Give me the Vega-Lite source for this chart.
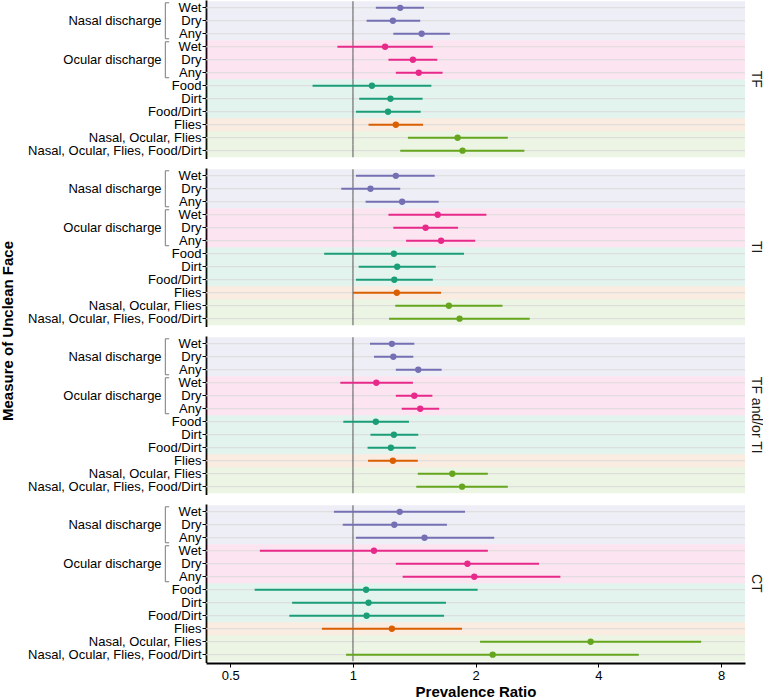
{
  "$schema": "https://vega.github.io/schema/vega-lite/v6.json",
  "padding": {"left": 0, "top": 0, "right": 0, "bottom": 0},
  "bounds": "flush",
  "config": {
    "view": {"stroke": null},
    "font": "Liberation Sans",
    "axis": {"labelFont": "Liberation Sans", "titleFont": "Liberation Sans", "labelColor": "#000", "titleColor": "#000"}
  },
  "data": {"values": [
    {"outcome":"TF","key":"Nasal|Wet","group":"Nasal discharge","pr":1.306,"lo":1.138,"hi":1.494},
    {"outcome":"TF","key":"Nasal|Dry","group":"Nasal discharge","pr":1.253,"lo":1.080,"hi":1.462},
    {"outcome":"TF","key":"Nasal|Any","group":"Nasal discharge","pr":1.474,"lo":1.256,"hi":1.729},
    {"outcome":"TF","key":"Ocular|Wet","group":"Ocular discharge","pr":1.199,"lo":0.916,"hi":1.570},
    {"outcome":"TF","key":"Ocular|Dry","group":"Ocular discharge","pr":1.403,"lo":1.222,"hi":1.610},
    {"outcome":"TF","key":"Ocular|Any","group":"Ocular discharge","pr":1.450,"lo":1.274,"hi":1.659},
    {"outcome":"TF","key":"Food","group":"Food/Dirt","pr":1.113,"lo":0.796,"hi":1.557},
    {"outcome":"TF","key":"Dirt","group":"Food/Dirt","pr":1.236,"lo":1.036,"hi":1.482},
    {"outcome":"TF","key":"Food/Dirt","group":"Food/Dirt","pr":1.219,"lo":1.017,"hi":1.466},
    {"outcome":"TF","key":"Flies","group":"Flies","pr":1.274,"lo":1.092,"hi":1.486},
    {"outcome":"TF","key":"Nasal, Ocular, Flies","group":"Combined","pr":1.806,"lo":1.364,"hi":2.398},
    {"outcome":"TF","key":"Nasal, Ocular, Flies, Food/Dirt","group":"Combined","pr":1.857,"lo":1.306,"hi":2.633},

    {"outcome":"TI","key":"Nasal|Wet","group":"Nasal discharge","pr":1.274,"lo":1.017,"hi":1.587},
    {"outcome":"TI","key":"Nasal|Dry","group":"Nasal discharge","pr":1.104,"lo":0.936,"hi":1.306},
    {"outcome":"TI","key":"Nasal|Any","group":"Nasal discharge","pr":1.320,"lo":1.074,"hi":1.623},
    {"outcome":"TI","key":"Ocular|Wet","group":"Ocular discharge","pr":1.614,"lo":1.222,"hi":2.125},
    {"outcome":"TI","key":"Ocular|Dry","group":"Ocular discharge","pr":1.507,"lo":1.256,"hi":1.811},
    {"outcome":"TI","key":"Ocular|Any","group":"Ocular discharge","pr":1.645,"lo":1.350,"hi":1.995},
    {"outcome":"TI","key":"Food","group":"Food/Dirt","pr":1.260,"lo":0.850,"hi":1.872},
    {"outcome":"TI","key":"Dirt","group":"Food/Dirt","pr":1.284,"lo":1.033,"hi":1.596},
    {"outcome":"TI","key":"Food/Dirt","group":"Food/Dirt","pr":1.263,"lo":1.017,"hi":1.570},
    {"outcome":"TI","key":"Flies","group":"Flies","pr":1.281,"lo":1.000,"hi":1.645},
    {"outcome":"TI","key":"Nasal, Ocular, Flies","group":"Combined","pr":1.719,"lo":1.270,"hi":2.327},
    {"outcome":"TI","key":"Nasal, Ocular, Flies, Food/Dirt","group":"Combined","pr":1.826,"lo":1.226,"hi":2.714},

    {"outcome":"TF and/or TI","key":"Nasal|Wet","group":"Nasal discharge","pr":1.246,"lo":1.101,"hi":1.414},
    {"outcome":"TF and/or TI","key":"Nasal|Dry","group":"Nasal discharge","pr":1.256,"lo":1.126,"hi":1.406},
    {"outcome":"TF and/or TI","key":"Nasal|Any","group":"Nasal discharge","pr":1.446,"lo":1.274,"hi":1.650},
    {"outcome":"TF and/or TI","key":"Ocular|Wet","group":"Ocular discharge","pr":1.141,"lo":0.931,"hi":1.403},
    {"outcome":"TF and/or TI","key":"Ocular|Dry","group":"Ocular discharge","pr":1.414,"lo":1.274,"hi":1.566},
    {"outcome":"TF and/or TI","key":"Ocular|Any","group":"Ocular discharge","pr":1.462,"lo":1.317,"hi":1.627},
    {"outcome":"TF and/or TI","key":"Food","group":"Food/Dirt","pr":1.138,"lo":0.947,"hi":1.372},
    {"outcome":"TF and/or TI","key":"Dirt","group":"Food/Dirt","pr":1.260,"lo":1.104,"hi":1.446},
    {"outcome":"TF and/or TI","key":"Food/Dirt","group":"Food/Dirt","pr":1.239,"lo":1.086,"hi":1.426},
    {"outcome":"TF and/or TI","key":"Flies","group":"Flies","pr":1.253,"lo":1.089,"hi":1.442},
    {"outcome":"TF and/or TI","key":"Nasal, Ocular, Flies","group":"Combined","pr":1.753,"lo":1.442,"hi":2.142},
    {"outcome":"TF and/or TI","key":"Nasal, Ocular, Flies, Food/Dirt","group":"Combined","pr":1.852,"lo":1.430,"hi":2.398},

    {"outcome":"CT","key":"Nasal|Wet","group":"Nasal discharge","pr":1.302,"lo":0.898,"hi":1.883},
    {"outcome":"CT","key":"Nasal|Dry","group":"Nasal discharge","pr":1.263,"lo":0.944,"hi":1.700},
    {"outcome":"CT","key":"Nasal|Any","group":"Nasal discharge","pr":1.498,"lo":1.017,"hi":2.221},
    {"outcome":"CT","key":"Ocular|Wet","group":"Ocular discharge","pr":1.126,"lo":0.591,"hi":2.142},
    {"outcome":"CT","key":"Ocular|Dry","group":"Ocular discharge","pr":1.909,"lo":1.274,"hi":2.860},
    {"outcome":"CT","key":"Ocular|Any","group":"Ocular discharge","pr":1.984,"lo":1.324,"hi":3.227},
    {"outcome":"CT","key":"Food","group":"Food/Dirt","pr":1.077,"lo":0.574,"hi":2.022},
    {"outcome":"CT","key":"Dirt","group":"Food/Dirt","pr":1.092,"lo":0.709,"hi":1.691},
    {"outcome":"CT","key":"Food/Dirt","group":"Food/Dirt","pr":1.080,"lo":0.698,"hi":1.673},
    {"outcome":"CT","key":"Flies","group":"Flies","pr":1.246,"lo":0.839,"hi":1.852},
    {"outcome":"CT","key":"Nasal, Ocular, Flies","group":"Combined","pr":3.829,"lo":2.050,"hi":7.147},
    {"outcome":"CT","key":"Nasal, Ocular, Flies, Food/Dirt","group":"Combined","pr":2.202,"lo":0.962,"hi":5.026}
  ]},
  "facet": {
    "row": {
      "field": "outcome",
      "type": "nominal",
      "sort": ["TF", "TI", "TF and/or TI", "CT"],
      "title": "Measure of Unclean Face",
      "header": {
        "labelOrient": "right",
        "labelAngle": 90,
        "labelFontSize": 14,
        "labelFont": "Liberation Sans",
        "labelColor": "#1a1a1a",
        "labelPadding": 4,
        "titleOrient": "left",
        "titleFontSize": 15,
        "titleFontWeight": "bold",
        "titleFont": "Liberation Sans",
        "titleColor": "#000",
        "titlePadding": 1
      }
    }
  },
  "spacing": {"row": 9},
  "spec": {
    "width": 539,
    "height": 158.5,
    "layer": [
      {
        "mark": {"type": "rect", "opacity": 0.12},
        "encoding": {
          "y": {
            "field": "key",
            "type": "nominal",
            "scale": {
              "domain": ["Nasal|Wet","Nasal|Dry","Nasal|Any","Ocular|Wet","Ocular|Dry","Ocular|Any","Food","Dirt","Food/Dirt","Flies","Nasal, Ocular, Flies","Nasal, Ocular, Flies, Food/Dirt"],
              "paddingInner": 0,
              "paddingOuter": 0.1
            },
            "axis": {
              "title": null,
              "labelExpr": "indexof(datum.value, '|') >= 0 ? split(datum.value, '|')[1] : datum.value",
              "labelFontSize": 13,
              "labelPadding": 1,
              "tickSize": 4,
              "tickColor": "#000",
              "domainColor": "#000",
              "domainWidth": 1.8,
              "grid": false
            }
          },
          "color": {"field": "group", "type": "nominal", "legend": null,
            "scale": {"domain": ["Nasal discharge","Ocular discharge","Food/Dirt","Flies","Combined"],
                      "range": ["#7570B3","#E7298A","#1B9E77","#D95F02","#66A61E"]}}
        }
      },
      {
        "mark": {"type": "rule", "color": "#DADADA", "strokeWidth": 1},
        "encoding": {
          "y": {"field": "key", "type": "nominal"}
        }
      },
      {
        "mark": {"type": "rect", "color": "#555555"},
        "encoding": {
          "y": {"field": "key", "type": "nominal"},
          "x": {"datum": 0.9972, "type": "quantitative",
            "scale": {"type": "log", "domain": [0.436, 9.156], "nice": false},
            "axis": {"title": "Prevalence Ratio", "values": [0.5, 1, 2, 4, 8], "format": "~g",
              "grid": false, "labelFontSize": 13, "titleFontSize": 15, "titleFontWeight": "bold",
              "tickColor": "#000", "domainColor": "#000", "domainWidth": 1.8, "tickSize": 4, "labelPadding": 2, "titlePadding": 2}},
          "x2": {"datum": 1.0028}
        }
      },
      {
        "mark": {"type": "rule", "strokeWidth": 2},
        "encoding": {
          "y": {"field": "key", "type": "nominal"},
          "x": {"field": "lo", "type": "quantitative"},
          "x2": {"field": "hi"},
          "color": {"field": "group", "type": "nominal", "legend": null}
        }
      },
      {
        "mark": {"type": "circle", "size": 40, "opacity": 1},
        "encoding": {
          "y": {"field": "key", "type": "nominal"},
          "x": {"field": "pr", "type": "quantitative"},
          "color": {"field": "group", "type": "nominal", "legend": null}
        }
      },
      {
        "transform": [
          {"filter": "indexof(datum.key, '|') >= 0"},
          {"aggregate": [{"op": "max", "field": "key", "as": "key"}, {"op": "min", "field": "key", "as": "key2"}], "groupby": ["outcome", "group"]}
        ],
        "mark": {"type": "rule", "color": "#7a7a7a", "strokeWidth": 1, "yOffset": -5, "y2Offset": 5},
        "encoding": {
          "x": {"datum": 0.3465, "type": "quantitative"},
          "y": {"field": "key", "type": "nominal"},
          "y2": {"field": "key2"}
        }
      },
      {
        "transform": [{"filter": "indexof(datum.key, '|Wet') >= 0"}],
        "mark": {"type": "rule", "color": "#7a7a7a", "strokeWidth": 1, "yOffset": -5},
        "encoding": {
          "y": {"field": "key", "type": "nominal"},
          "x": {"datum": 0.3465, "type": "quantitative"},
          "x2": {"datum": 0.3541}
        }
      },
      {
        "transform": [{"filter": "indexof(datum.key, '|Any') >= 0"}],
        "mark": {"type": "rule", "color": "#7a7a7a", "strokeWidth": 1, "yOffset": 5},
        "encoding": {
          "y": {"field": "key", "type": "nominal"},
          "x": {"datum": 0.3465, "type": "quantitative"},
          "x2": {"datum": 0.3541}
        }
      },
      {
        "transform": [{"filter": "indexof(datum.key, '|Dry') >= 0"}],
        "mark": {"type": "text", "align": "right", "baseline": "middle", "fontSize": 13, "font": "Liberation Sans", "color": "#000"},
        "encoding": {
          "y": {"field": "key", "type": "nominal"},
          "x": {"datum": 0.3393, "type": "quantitative"},
          "text": {"field": "group"}
        }
      }
    ]
  }
}
